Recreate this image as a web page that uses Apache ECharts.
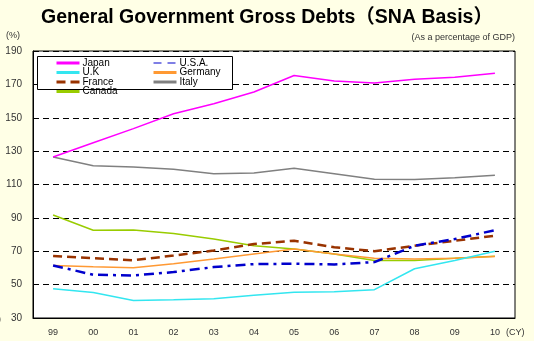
<!DOCTYPE html>
<html>
<head>
<meta charset="utf-8">
<script src="https://cdn.jsdelivr.net/npm/echarts@6/dist/echarts.min.js"></script>
<style>
  html, body { margin: 0; padding: 0; background: #FFFFE6; }
  #chart { width: 534px; height: 341px; }
</style>
</head>
<body>
<div id="chart"></div>
<script>
// Calendar years (two-digit) on the category axis
const years = ['99', '00', '01', '02', '03', '04', '05', '06', '07', '08', '09', '10'];

// Gross debt, % of GDP
const japan   = [126.5, 135.0, 143.5, 152.4, 158.4, 165.4, 175.3, 172.0, 170.8, 173.0, 174.3, 176.7];
const usa     = [61.5, 55.9, 55.5, 57.5, 60.5, 62.3, 62.5, 62.1, 63.5, 73.3, 77.3, 82.6];
const uk      = [47.6, 45.3, 40.5, 40.9, 41.6, 43.6, 45.5, 45.7, 47.0, 59.5, 64.4, 70.0];
const germany = [61.5, 60.7, 60.1, 62.5, 65.4, 68.4, 71.4, 68.4, 65.8, 65.4, 65.8, 66.8];
const france  = [67.2, 65.8, 64.6, 67.4, 70.4, 74.3, 76.3, 72.4, 70.0, 73.3, 76.3, 79.3];
const italy   = [126.5, 121.3, 120.5, 119.1, 116.5, 116.9, 119.7, 116.5, 113.1, 113.0, 114.1, 115.5];
const canada  = [91.7, 82.6, 82.8, 80.7, 77.3, 73.3, 71.4, 68.4, 64.4, 64.4, 65.8, 67.0];

const FONT = 'Liberation Sans, Arial, Noto Sans CJK JP, sans-serif';
const chart = echarts.init(document.getElementById('chart'), null, { renderer: 'canvas' });

function line(name, data, color, width, type) {
  return {
    name, type: 'line', data, symbol: 'none', animation: false,
    lineStyle: { color, width, type: type || 'solid' },
    itemStyle: { color }
  };
}

// Legend keys: plain line swatches, no point marker
const legendCommon = {
  orient: 'vertical', padding: 0, itemWidth: 23, itemHeight: 8, itemGap: -0.5,
  itemStyle: { color: 'transparent', borderColor: 'transparent', borderWidth: 0 },
  lineStyle: { width: 3 },
  textStyle: { fontFamily: FONT, fontSize: 10, color: '#000', lineHeight: 8, padding: [0, 0, 0, -2] },
  z: 20
};

chart.setOption({
  backgroundColor: '#FFFFE6',
  textStyle: { fontFamily: FONT },
  title: {
    text: 'General Government Gross Debts（SNA Basis）',
    left: 'center', top: 3,
    textStyle: { fontFamily: FONT, fontSize: 19.5, fontWeight: 'bold', color: '#000' }
  },
  grid: {
    left: 33, right: 19, top: 51, bottom: 23,
    show: true, backgroundColor: '#FFFFFF', borderColor: '#000', borderWidth: 1
  },
  legend: [
    Object.assign({}, legendCommon, { left: 55, top: 58, data: ['Japan', 'U.K', 'France', 'Canada'] }),
    Object.assign({}, legendCommon, {
      left: 152, top: 58,
      data: [
        { name: 'U.S.A.', lineStyle: { width: 1.2, type: [8, 6] } },
        'Germany', 'Italy'
      ]
    })
  ],
  graphic: [
    { type: 'rect', left: 37, top: 56, shape: { width: 195, height: 33 },
      style: { fill: '#FFFFFF', stroke: '#000', lineWidth: 1 }, z: 10 },
    { type: 'text', left: 6, top: 31,
      style: { text: '(%)', font: '9px ' + FONT, fill: '#333' } },
    { type: 'text', right: 19, top: 33,
      style: { text: '(As a percentage of GDP)', font: '9px ' + FONT, fill: '#333' } },
    { type: 'text', left: 506, top: 328,
      style: { text: '(CY)', font: '9px ' + FONT, fill: '#333' } },
    { type: 'text', left: -11, top: 315,
      style: { text: '(Y)', font: '9px ' + FONT, fill: '#333' } }
  ],
  xAxis: {
    type: 'category', data: years, boundaryGap: true,
    axisLine: { lineStyle: { color: '#000', width: 1 } },
    axisTick: { inside: true, length: 4, lineStyle: { color: '#000' } },
    axisLabel: { fontFamily: FONT, fontSize: 9, color: '#333', margin: 10 }
  },
  yAxis: {
    type: 'value', min: 30, max: 190, interval: 20,
    axisLine: { show: true, lineStyle: { color: '#000' } },
    axisTick: { show: false },
    axisLabel: { fontFamily: FONT, fontSize: 10, color: '#333', margin: 11 },
    splitLine: { lineStyle: { color: '#000', width: 1, type: [6, 4] } }
  },
  series: [
    line('Italy', italy, '#808080', 1.5),
    line('Canada', canada, '#99CC00', 1.5),
    line('Germany', germany, '#FF9933', 1.5),
    line('U.K', uk, '#33E6F0', 1.5),
    line('France', france, '#993300', 2.5, [9, 5]),
    line('U.S.A.', usa, '#0000CC', 2.5, [10, 5, 3, 5]),
    line('Japan', japan, '#FF00FF', 1.5)
  ]
});
</script>
</body>
</html>
